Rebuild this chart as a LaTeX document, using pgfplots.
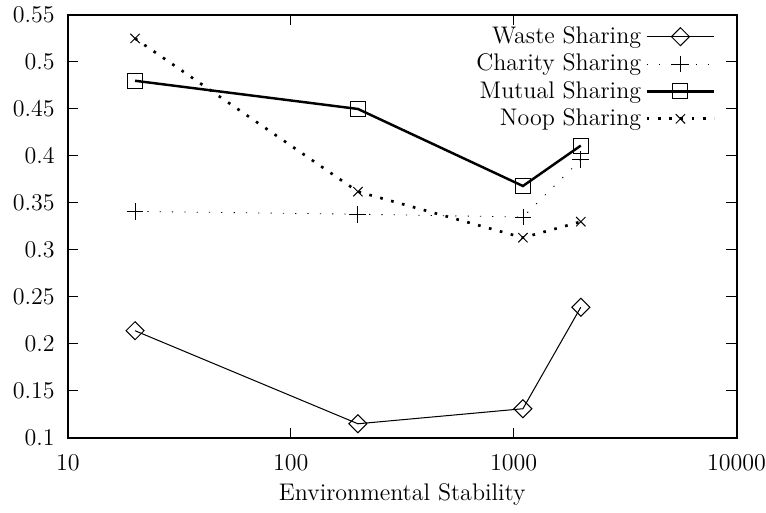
\documentclass[border=0pt]{standalone}
\usepackage{pgfplots}
\pgfplotsset{compat=1.18}
\begin{document}
\begin{tikzpicture}
\begin{axis}[
  scale only axis,
  width=325.7pt, height=206pt,
  xmode=log, log basis x=10,
  xmin=10, xmax=10000, ymin=0.1, ymax=0.55,
  ytick={0.1,0.15,...,0.56},
  yticklabels={0.1,0.15,0.2,0.25,0.3,0.35,0.4,0.45,0.5,0.55},
  xtick={10,100,1000,10000},
  xticklabels={10,100,1000,10000},
  tick align=inside,
  major tick length=5pt, minor tick length=2.5pt,
  tick style={black, line width=0.5pt},
  axis line style={line width=0.9pt},
  tick label style={font=\fontsize{11.7}{14}\selectfont, inner sep=0pt},
  label style={font=\fontsize{11.7}{14}\selectfont},
  xticklabel style={yshift=-8pt},
  yticklabel style={xshift=-6.3pt},
  xlabel style={at={(axis description cs:0.5,0)}, anchor=base, yshift=-30.7pt},
  xlabel={Environmental Stability},
  legend style={draw=none, fill=none, at={(1,1)}, xshift=-10pt, yshift=-3.5pt, anchor=north east,
    row sep=-0.4pt, font=\fontsize{11.7}{14}\selectfont, inner sep=0pt},
  legend cell align=right,
  legend plot pos=right,
  legend image code/.code={
    \draw[#1] (1pt,0pt) -- (34pt,0pt);
    \draw[#1, solid] plot coordinates {(17.5pt,0pt)};
  },
]
\addplot[black, line width=0.5pt, mark=square, mark size=3.1pt, mark options={solid, rotate=45}]
  coordinates {(20,0.214) (200,0.115) (1100,0.131) (2000,0.239)};
\addlegendentry{Waste Sharing}
\addplot[black, line width=0.4pt, dash pattern=on 0.6pt off 5.4pt, mark=+, mark size=4.1pt, mark options={solid}]
  coordinates {(20,0.341) (200,0.338) (1100,0.335) (2000,0.396)};
\addlegendentry{Charity Sharing}
\addplot[black, line width=1.2pt, mark=square, mark size=3.65pt, mark options={solid, line width=0.5pt}]
  coordinates {(20,0.480) (200,0.450) (1100,0.368) (2000,0.411)};
\addlegendentry{Mutual Sharing}
\addplot[black, line width=1.3pt, dash pattern=on 1.3pt off 4.2pt, mark=x, mark size=3.2pt, mark options={solid, line width=0.5pt}]
  coordinates {(20,0.525) (200,0.362) (1100,0.313) (2000,0.330)};
\addlegendentry{Noop Sharing}
\end{axis}
\path ([xshift=-33.1pt,yshift=-35pt]current axis.south west) rectangle ([xshift=14.1pt,yshift=7.3pt]current axis.north east);
\end{tikzpicture}
\end{document}
